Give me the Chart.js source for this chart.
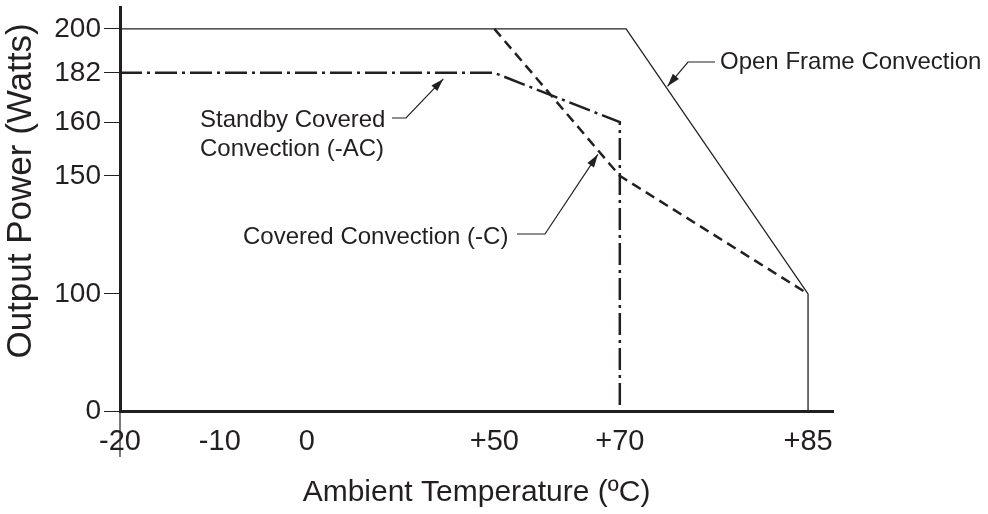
<!DOCTYPE html>
<html>
<head>
<meta charset="utf-8">
<script src="https://cdn.jsdelivr.net/npm/chart.js@4.4.1/dist/chart.umd.min.js"></script>
<style>
  html, body { margin: 0; padding: 0; background: #fff; }
  #wrap { width: 988px; height: 514px; position: relative; }
</style>
</head>
<body>
<div id="wrap"><canvas id="chart"></canvas></div>
<script>
// tick values shown on the axes
var tempTicks = [-20, -10, 0, 50, 70, 85];
var powerTicks = [0, 100, 150, 160, 182, 200];

// derating curves (temperature in C, power in W)
var openFrameTemp = [-20, 70.5, 85, 85];
var openFramePower = [200, 200, 100, 0];
var coveredTemp = [50, 70, 85];
var coveredPower = [200, 150, 100];
var standbyTemp = [-20, 50, 70, 70];
var standbyPower = [182, 182, 160, 0];

// where the leader arrows touch the curves (temperature, power)
var openFrameTip = [73.8, 176];
var standbyTip = [36.4, 179.3];
var coveredTip = [66.5, 154];

var ink = "#231f20";
var fontFamily = '"Liberation Sans", Arial, Helvetica, sans-serif';

// the drawing is not to scale: each axis is stretched piece by piece
// [value, fraction of axis length]
var axisStops = {
    x: [[-20, 0], [-10, 0.140], [0, 0.262], [50, 0.525], [70, 0.701], [85, 0.965], [87, 1]],
    y: [[0, 0], [100, 0.290], [150, 0.582], [160, 0.715], [182, 0.837], [200, 0.946], [209, 1]]
};

class StopScale extends Chart.LinearScale {
    static id = "stops";
    static defaults = {};

    toDecimal(v) {
        var s = axisStops[this.id];
        var i = 1;
        while (i < s.length - 1 && v > s[i][0]) i++;
        var a = s[i - 1], b = s[i];
        return a[1] + (v - a[0]) * (b[1] - a[1]) / (b[0] - a[0]);
    }

    getPixelForValue(value) {
        if (value === null || isNaN(value)) return NaN;
        return this.getPixelForDecimal(this.toDecimal(value));
    }

    getValueForPixel(pixel) {
        var d = this.getDecimalForPixel(pixel);
        var s = axisStops[this.id];
        var i = 1;
        while (i < s.length - 1 && d > s[i][1]) i++;
        var a = s[i - 1], b = s[i];
        return a[0] + (d - a[1]) * (b[0] - a[0]) / (b[1] - a[1]);
    }
}
Chart.register(StopScale);

function points(xs, ys) {
    return xs.map(function (x, i) {
        return { x: x, y: ys[i] };
    });
}

var notes = [
    { lines: ["Open Frame Convection"], x: 720, y: 62, elbow: [[715, 62], [688, 62]], tip: openFrameTip },
    { lines: ["Standby Covered", "Convection (-AC)"], x: 200, y: 120, elbow: [[392, 118], [406, 118]], tip: standbyTip },
    { lines: ["Covered Convection (-C)"], x: 243, y: 237, elbow: [[517, 234], [545, 234]], tip: coveredTip }
];

var notePlugin = {
    id: "notes",
    afterDatasetsDraw: function (chart) {
        var ctx = chart.ctx;
        var xs = chart.scales.x, ys = chart.scales.y;
        var area = chart.chartArea;
        ctx.save();
        ctx.strokeStyle = ink;
        ctx.fillStyle = ink;
        ctx.lineWidth = 1.2;

        // the y axis runs on a little below the x axis
        ctx.beginPath();
        ctx.moveTo(area.left, area.bottom);
        ctx.lineTo(area.left, area.bottom + 46);
        ctx.stroke();

        // y axis title, sits a bit above the middle of the axis
        ctx.save();
        ctx.translate(21, area.top + 184);
        ctx.rotate(-Math.PI / 2);
        ctx.font = "35px " + fontFamily;
        ctx.textAlign = "center";
        ctx.textBaseline = "middle";
        ctx.fillText("Output Power (Watts)", 0, 0);
        ctx.restore();

        ctx.font = "24px " + fontFamily;
        ctx.textBaseline = "middle";
        ctx.textAlign = "left";
        notes.forEach(function (n) {
            n.lines.forEach(function (t, i) {
                ctx.fillText(t, n.x, n.y + i * 29);
            });
            var tx = xs.getPixelForValue(n.tip[0]);
            var ty = ys.getPixelForValue(n.tip[1]);
            var a = n.elbow[0], b = n.elbow[1];
            ctx.beginPath();
            ctx.moveTo(a[0], a[1]);
            ctx.lineTo(b[0], b[1]);
            ctx.lineTo(tx, ty);
            ctx.stroke();

            var ang = Math.atan2(ty - b[1], tx - b[0]);
            var len = 13, half = 4;
            ctx.beginPath();
            ctx.moveTo(tx, ty);
            ctx.lineTo(tx - len * Math.cos(ang) + half * Math.sin(ang), ty - len * Math.sin(ang) - half * Math.cos(ang));
            ctx.lineTo(tx - len * Math.cos(ang) - half * Math.sin(ang), ty - len * Math.sin(ang) + half * Math.cos(ang));
            ctx.closePath();
            ctx.fill();
        });
        ctx.restore();
    }
};

Chart.defaults.font.family = fontFamily;
Chart.defaults.color = ink;

var ctx = document.getElementById("chart").getContext("2d");
var chart = new Chart(ctx, {
    type: "line",
    data: {
        datasets: [
            {
                label: "Open Frame Convection",
                data: points(openFrameTemp, openFramePower),
                borderColor: ink,
                borderWidth: 1.3
            },
            {
                label: "Covered Convection (-C)",
                data: points(coveredTemp, coveredPower),
                borderColor: ink,
                borderWidth: 2.5,
                borderDash: [10, 6]
            },
            {
                label: "Standby Covered Convection (-AC)",
                data: points(standbyTemp, standbyPower),
                borderColor: ink,
                borderWidth: 2.5,
                borderDash: [22, 5, 3, 5]
            }
        ]
    },
    options: {
        responsive: true,
        maintainAspectRatio: false,
        animation: false,
        layout: { padding: { left: 0, top: 7, right: 155, bottom: 0 } },
        elements: {
            point: { radius: 0, hoverRadius: 0 },
            line: { tension: 0, fill: false }
        },
        plugins: {
            legend: { display: false },
            tooltip: { enabled: false }
        },
        scales: {
            x: {
                type: "stops",
                position: "bottom",
                min: -20,
                max: 87,
                afterBuildTicks: function (scale) {
                    scale.ticks = tempTicks.map(function (v) { return { value: v }; });
                },
                afterFit: function (scale) {
                    scale.height = 103;
                    scale.paddingLeft = 0;
                    scale.paddingRight = 0;
                },
                border: { color: ink, width: 3 },
                grid: { display: false, drawTicks: false },
                ticks: {
                    autoSkip: false,
                    maxRotation: 0,
                    padding: 14,
                    color: ink,
                    font: { size: 29 },
                    callback: function (v) {
                        return v > 0 ? "+" + v : String(v);
                    }
                },
                title: {
                    display: true,
                    text: "Ambient Temperature (ºC)",
                    color: ink,
                    font: { size: 30, lineHeight: 1.2 },
                    padding: { top: 0, bottom: 3 }
                }
            },
            y: {
                type: "stops",
                position: "left",
                min: 0,
                max: 209,
                afterBuildTicks: function (scale) {
                    scale.ticks = powerTicks.map(function (v) { return { value: v }; });
                },
                afterFit: function (scale) {
                    scale.width = 120;
                    scale.paddingTop = 0;
                    scale.paddingBottom = 0;
                },
                border: { color: ink, width: 3 },
                grid: { drawOnChartArea: false, drawTicks: true, tickLength: 16, color: ink, lineWidth: 1 },
                ticks: {
                    autoSkip: false,
                    padding: 3,
                    color: ink,
                    font: { size: 28 }
                },
                title: { display: false }
            }
        }
    },
    plugins: [notePlugin]
});
</script>
</body>
</html>
